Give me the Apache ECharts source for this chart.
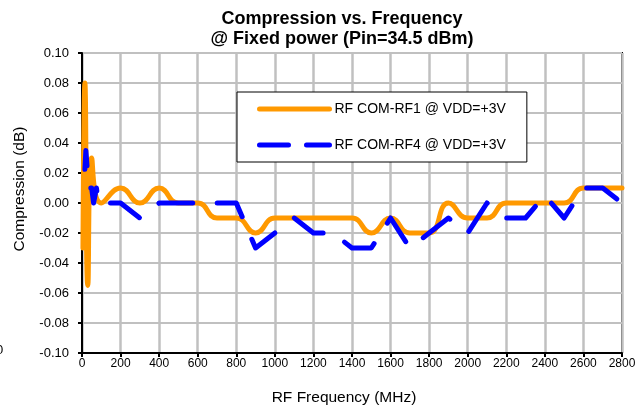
<!DOCTYPE html>
<html>
<head>
<meta charset="utf-8">
<script src="https://cdn.jsdelivr.net/npm/echarts@6/dist/echarts.min.js"></script>
<style>
html,body{margin:0;padding:0;background:#fff;}
#c{width:643px;height:407px;}
</style>
</head>
<body>
<div id="c"></div>
<script>
const titleText = 'Compression vs. Frequency\n@ Fixed power (Pin=34.5 dBm)';
const xName = 'RF Frequency (MHz)';
const yName = 'Compression (dB)';
const seriesNames = ['RF COM-RF1 @ VDD=+3V', 'RF COM-RF4 @ VDD=+3V'];

const orangeFreq = [5, 15, 30, 50, 100, 200, 300, 400, 500, 600, 700, 800, 900, 1000, 1100, 1200, 1300, 1400, 1500, 1600, 1700, 1800, 1900, 2000, 2100, 2200, 2300, 2400, 2500, 2600, 2700, 2800];
const orangeVal  = [-0.03, 0.08, -0.055, 0.03, 0, 0.01, 0, 0.01, 0, 0, -0.01, -0.01, -0.02, -0.01, -0.01, -0.01, -0.01, -0.01, -0.02, -0.01, -0.02, -0.02, 0, -0.01, -0.01, 0, 0, 0, 0, 0.01, 0.01, 0.01];

const blueFreq = [10, 20, 35, 50, 60, 75, 85, 100, 200, 300, 400, 500, 600, 700, 800, 900, 1000, 1100, 1200, 1300, 1400, 1500, 1600, 1700, 1800, 1900, 2000, 2100, 2200, 2300, 2400, 2500, 2600, 2700, 2800];
const blueVal  = [0.01, 0.035, 0.01, 0.01, 0, 0.01, 0, 0, 0, -0.01, 0, 0, 0, 0, 0, -0.03, -0.02, -0.01, -0.02, -0.02, -0.03, -0.03, -0.01, -0.03, -0.02, -0.01, -0.02, 0, -0.01, -0.01, 0.005, -0.01, 0.01, 0.01, 0];

const font = '"Liberation Sans", Arial, sans-serif';
const chart = echarts.init(document.getElementById('c'), null, {renderer: 'canvas'});
chart.setOption({
  animation: false,
  backgroundColor: '#fff',
  title: {
    text: titleText,
    left: 342, top: 9, padding: 0,
    textAlign: 'center',
    textStyle: {fontFamily: font, fontSize: 18, fontWeight: 'bold', color: '#000', lineHeight: 20}
  },
  grid: {left: 82, right: 21, top: 53, bottom: 54, show: true, borderColor: '#000', borderWidth: 2, containLabel: false, outerBoundsMode: 'none'},
  legend: {
    orient: 'vertical', left: 237, top: 92,
    padding: [10, 21, 10, 20],
    itemWidth: 70, itemHeight: 14, itemGap: 22,
    borderColor: '#000', borderWidth: 1, backgroundColor: '#fff',
    data: [
      {name: seriesNames[0]},
      {name: seriesNames[1], lineStyle: {type: [29, 18], dashOffset: 0}}
    ],
    itemStyle: {opacity: 0},
    lineStyle: {width: 5},
    textStyle: {fontFamily: font, fontSize: 14, color: '#000'}
  },
  xAxis: {
    type: 'value', min: 0, max: 2800, interval: 200,
    name: xName, nameLocation: 'middle', nameGap: 37,
    nameTextStyle: {fontFamily: font, fontSize: 15.5, color: '#000', padding: [0, 16, 0, 0]},
    axisLine: {onZero: false, lineStyle: {color: '#000', width: 2}},
    axisTick: {show: true, inside: false, length: 4, lineStyle: {color: '#000', width: 2}},
    axisLabel: {fontFamily: font, fontSize: 12, color: '#000', margin: 5, formatter: v => String(v)},
    splitLine: {show: true, lineStyle: {color: '#c0c0c0', width: 2.5}}
  },
  yAxis: {
    type: 'value', min: -0.1, max: 0.1, interval: 0.02,
    name: yName, nameLocation: 'middle', nameGap: 54,
    nameTextStyle: {fontFamily: font, fontSize: 15.5, color: '#000', padding: [0, 0, 0, 28]},
    axisLine: {onZero: false, lineStyle: {color: '#000', width: 2}},
    axisTick: {show: true, inside: false, length: 4, lineStyle: {color: '#000', width: 2}},
    axisLabel: {fontFamily: font, fontSize: 13, color: '#000', margin: 13, formatter: v => v.toFixed(2)},
    splitLine: {show: true, lineStyle: {color: '#c0c0c0', width: 1.8}}
  },
  series: [
    {
      name: seriesNames[0], type: 'line', symbol: 'none', smooth: 0.5,
      data: orangeFreq.map((f, i) => [f, orangeVal[i]]),
      lineStyle: {color: '#FF9900', width: 5, cap: 'round', join: 'round'},
      itemStyle: {color: '#FF9900'}
    },
    {
      name: seriesNames[1], type: 'line', symbol: 'none',
      data: blueFreq.map((f, i) => [f, blueVal[i]]),
      lineStyle: {color: '#0000FF', width: 5, type: [34, 24.5], dashOffset: 39.8, cap: 'round', join: 'round'},
      itemStyle: {color: '#0000FF'}
    }
  ],
  graphic: [
    {type: 'text', left: -4, top: 344, style: {text: '0', fontFamily: font, fontSize: 13, fill: '#000'}}
  ]
});
</script>
</body>
</html>
